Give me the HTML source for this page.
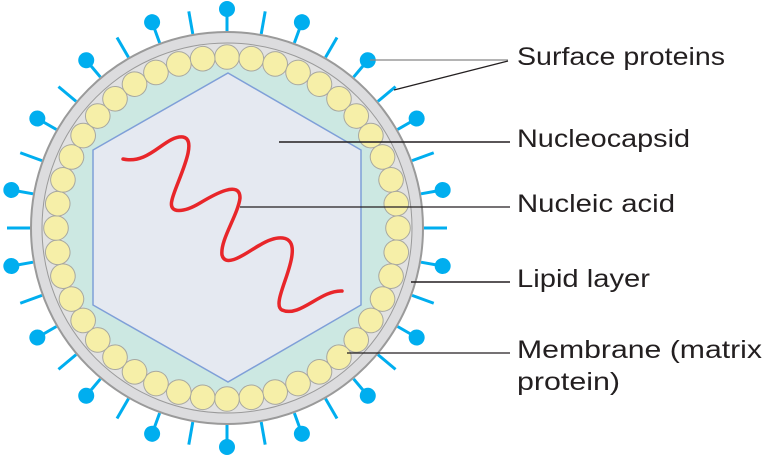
<!DOCTYPE html>
<html><head><meta charset="utf-8"><style>
html,body{margin:0;padding:0;background:#fff;width:762px;height:460px;overflow:hidden}
svg{display:block}
text{font-family:"Liberation Sans",sans-serif;font-size:25px;fill:#231f20}
</style></head><body>
<svg width="762" height="460" viewBox="0 0 762 460" xmlns="http://www.w3.org/2000/svg">
<defs>
<g id="ball"><line x1="227" y1="31" x2="227" y2="10" stroke="#00aeef" stroke-width="3"/><circle cx="227" cy="9" r="8" fill="#00aeef"/></g>
<line id="plain" x1="227" y1="31" x2="227" y2="8" stroke="#00aeef" stroke-width="3"/>
<circle id="bead" cx="227" cy="57" r="12.3" fill="#f6efa8" stroke="#a8a8a0" stroke-width="1"/>
</defs>
<g>
<use href="#ball" transform="rotate(0 227 228)"/><use href="#ball" transform="rotate(20 227 228)"/><use href="#ball" transform="rotate(40 227 228)"/><use href="#ball" transform="rotate(60 227 228)"/><use href="#ball" transform="rotate(80 227 228)"/><use href="#ball" transform="rotate(100 227 228)"/><use href="#ball" transform="rotate(120 227 228)"/><use href="#ball" transform="rotate(140 227 228)"/><use href="#ball" transform="rotate(160 227 228)"/><use href="#ball" transform="rotate(180 227 228)"/><use href="#ball" transform="rotate(200 227 228)"/><use href="#ball" transform="rotate(220 227 228)"/><use href="#ball" transform="rotate(240 227 228)"/><use href="#ball" transform="rotate(260 227 228)"/><use href="#ball" transform="rotate(280 227 228)"/><use href="#ball" transform="rotate(300 227 228)"/><use href="#ball" transform="rotate(320 227 228)"/><use href="#ball" transform="rotate(340 227 228)"/>
<use href="#plain" transform="rotate(10 227 228)"/><use href="#plain" transform="rotate(30 227 228)"/><use href="#plain" transform="rotate(50 227 228)"/><use href="#plain" transform="rotate(70 227 228)"/><use href="#plain" transform="rotate(90 227 228)"/><use href="#plain" transform="rotate(110 227 228)"/><use href="#plain" transform="rotate(130 227 228)"/><use href="#plain" transform="rotate(150 227 228)"/><use href="#plain" transform="rotate(170 227 228)"/><use href="#plain" transform="rotate(190 227 228)"/><use href="#plain" transform="rotate(210 227 228)"/><use href="#plain" transform="rotate(230 227 228)"/><use href="#plain" transform="rotate(250 227 228)"/><use href="#plain" transform="rotate(270 227 228)"/><use href="#plain" transform="rotate(290 227 228)"/><use href="#plain" transform="rotate(310 227 228)"/><use href="#plain" transform="rotate(330 227 228)"/><use href="#plain" transform="rotate(350 227 228)"/>
</g>
<circle cx="227" cy="228" r="196" fill="#dcdcde" stroke="#9a9a9a" stroke-width="2"/>
<circle cx="227" cy="228" r="185" fill="#e2e2e2" stroke="#9a9a9a" stroke-width="1"/>
<circle cx="227" cy="228" r="164" fill="#cce8e2"/>
<g>
<use href="#bead" transform="rotate(0 227 228)"/><use href="#bead" transform="rotate(8.18 227 228)"/><use href="#bead" transform="rotate(16.36 227 228)"/><use href="#bead" transform="rotate(24.55 227 228)"/><use href="#bead" transform="rotate(32.73 227 228)"/><use href="#bead" transform="rotate(40.91 227 228)"/><use href="#bead" transform="rotate(49.09 227 228)"/><use href="#bead" transform="rotate(57.27 227 228)"/><use href="#bead" transform="rotate(65.45 227 228)"/><use href="#bead" transform="rotate(73.64 227 228)"/><use href="#bead" transform="rotate(81.82 227 228)"/><use href="#bead" transform="rotate(90 227 228)"/><use href="#bead" transform="rotate(98.18 227 228)"/><use href="#bead" transform="rotate(106.36 227 228)"/><use href="#bead" transform="rotate(114.55 227 228)"/><use href="#bead" transform="rotate(122.73 227 228)"/><use href="#bead" transform="rotate(130.91 227 228)"/><use href="#bead" transform="rotate(139.09 227 228)"/><use href="#bead" transform="rotate(147.27 227 228)"/><use href="#bead" transform="rotate(155.45 227 228)"/><use href="#bead" transform="rotate(163.64 227 228)"/><use href="#bead" transform="rotate(171.82 227 228)"/><use href="#bead" transform="rotate(180 227 228)"/><use href="#bead" transform="rotate(188.18 227 228)"/><use href="#bead" transform="rotate(196.36 227 228)"/><use href="#bead" transform="rotate(204.55 227 228)"/><use href="#bead" transform="rotate(212.73 227 228)"/><use href="#bead" transform="rotate(220.91 227 228)"/><use href="#bead" transform="rotate(229.09 227 228)"/><use href="#bead" transform="rotate(237.27 227 228)"/><use href="#bead" transform="rotate(245.45 227 228)"/><use href="#bead" transform="rotate(253.64 227 228)"/><use href="#bead" transform="rotate(261.82 227 228)"/><use href="#bead" transform="rotate(270 227 228)"/><use href="#bead" transform="rotate(278.18 227 228)"/><use href="#bead" transform="rotate(286.36 227 228)"/><use href="#bead" transform="rotate(294.55 227 228)"/><use href="#bead" transform="rotate(302.73 227 228)"/><use href="#bead" transform="rotate(310.91 227 228)"/><use href="#bead" transform="rotate(319.09 227 228)"/><use href="#bead" transform="rotate(327.27 227 228)"/><use href="#bead" transform="rotate(335.45 227 228)"/><use href="#bead" transform="rotate(343.64 227 228)"/><use href="#bead" transform="rotate(351.82 227 228)"/>
</g>
<polygon points="228,73 361,150 361,305 228,382 93,305 93,150" fill="#e5e9f1" stroke="#7f9fd8" stroke-width="1.5"/>
<path d="M123,159 C150,165 165,135 183,137 C200,140 175,185 172,200 C168,215 185,212 200,203 C215,194 240,180 240,198 C238,215 220,240 222,255 C226,270 250,250 260,245 C275,236 295,232 292,255 C290,275 272,305 282,310 C300,318 320,290 342,291" fill="none" stroke="#e8262a" stroke-width="3.5" stroke-linecap="round"/>
<g stroke="#231f20" fill="none">
<line x1="370" y1="60" x2="508" y2="60" stroke="#888" stroke-width="1.2"/>
<line x1="394" y1="90" x2="508" y2="61" stroke-width="1.2"/>
<line x1="279" y1="142" x2="510" y2="142" stroke-width="1.5"/>
<line x1="240" y1="207" x2="510" y2="207" stroke-width="1.2"/>
<line x1="411" y1="282" x2="510" y2="282" stroke-width="1.5"/>
<line x1="347" y1="353" x2="510" y2="353" stroke-width="1.2"/>
</g>
<text x="517" y="65" textLength="208" lengthAdjust="spacingAndGlyphs">Surface proteins</text>
<text x="517" y="147" textLength="173" lengthAdjust="spacingAndGlyphs">Nucleocapsid</text>
<text x="517" y="212" textLength="158" lengthAdjust="spacingAndGlyphs">Nucleic acid</text>
<text x="517" y="287" textLength="133" lengthAdjust="spacingAndGlyphs">Lipid layer</text>
<text x="517" y="358" textLength="245" lengthAdjust="spacingAndGlyphs">Membrane (matrix</text>
<text x="517" y="390" textLength="103" lengthAdjust="spacingAndGlyphs">protein)</text>
</svg>
</body></html>
